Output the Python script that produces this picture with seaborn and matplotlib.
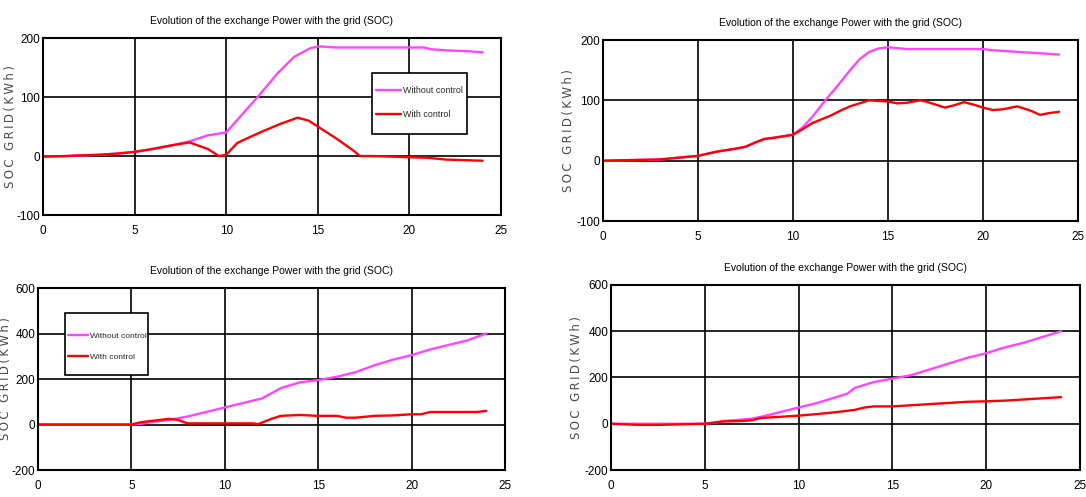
import numpy as np
import pandas as pd
import matplotlib
matplotlib.use("Agg")
import matplotlib.pyplot as plt
from matplotlib.patches import Rectangle
import seaborn as sns

# ---------------- data ----------------
title = "Evolution of the exchange Power with the grid (SOC)"
ylabel = "SOC GRID(KWh)"
series_names = ["Without control", "With control"]

# Panel 1 (top-left)
p1_x_wo = [0, 1.3, 2, 3, 4, 5, 6, 7, 8, 8.5, 9, 10, 11, 11.8, 12.8, 13.7, 14.6, 15.1, 16, 20.8, 21.2, 22.1, 23, 24]
p1_y_wo = [-1, 0, 1, 2, 4, 7, 12, 18, 25, 30, 35, 40, 75, 103, 140, 168, 183, 186, 184, 184, 181, 179, 178, 176]
p1_x_w = [0, 1.3, 2, 3, 4, 5, 6, 7, 8, 9, 9.6, 10, 10.6, 11, 12, 13, 13.9, 14.5, 15, 16, 17, 17.3, 18, 20, 21, 22, 24]
p1_y_w = [-1, 0, 1, 2, 4, 7, 12, 18, 23, 12, 0, 2, 22, 28, 42, 55, 65, 60, 50, 30, 8, 0, 0, -2, -3, -6, -8]

# Panel 2 (top-right)
p2_x_wo = [0, 3, 4, 5, 6, 7, 7.5, 8, 8.5, 9, 10, 10.5, 11, 11.7, 12.5, 13, 13.5, 14, 14.5, 15, 16, 20, 20.5, 22, 23, 24]
p2_y_wo = [0, 2, 5, 8, 15, 20, 23, 30, 36, 38, 43, 55, 72, 100, 130, 150, 168, 180, 186, 188, 185, 185, 183, 180, 178, 176]
p2_x_w = [0, 3, 4, 5, 6, 7, 7.5, 8, 8.5, 9, 10, 10.5, 11, 12, 12.5, 13, 13.5, 14, 14.5, 15, 15.5, 16, 16.7, 17, 17.5,
          18, 18.5, 19, 19.5, 20, 20.5, 21, 21.8, 22.5, 23, 23.5, 24]
p2_y_w = [0, 2, 5, 8, 15, 20, 23, 30, 36, 38, 43, 52, 62, 75, 83, 90, 95, 100, 99, 98, 95, 96, 100, 98, 93,
          88, 92, 97, 93, 88, 84, 85, 90, 83, 76, 79, 81]

# Panel 3 (bottom-left)
p3_x_wo = [0, 4.9, 5.5, 6, 7, 8, 9, 10, 11, 12, 13, 14, 15, 16, 17, 18, 19, 20, 21, 22, 23, 24]
p3_y_wo = [0, 0, 3, 10, 20, 35, 55, 75, 95, 115, 160, 185, 195, 210, 230, 260, 285, 305, 330, 350, 370, 400]
p3_x_w = [0, 5, 5.5, 6, 7, 7.5, 8, 9, 11.5, 11.8, 12.5, 13, 14, 15, 16, 16.5, 17, 18, 19, 20, 20.5, 21, 22, 23, 23.5, 24]
p3_y_w = [0, 0, 10, 15, 25, 20, 5, 5, 5, 2, 25, 38, 42, 38, 38, 30, 30, 38, 40, 45, 45, 55, 55, 55, 55, 60]

# Panel 4 (bottom-right)
p4_x_wo = [0, 5, 5.5, 6, 7, 7.5, 8, 9, 10, 11, 12, 12.6, 13, 14, 15, 16, 17, 18, 19, 20, 21, 22, 23, 24]
p4_y_wo = [0, 0, 5, 12, 18, 22, 30, 50, 70, 90, 115, 130, 155, 180, 195, 210, 235, 260, 285, 305, 330, 350, 375, 400]
p4_x_w = [0, 1.5, 2.5, 5, 5.5, 6, 7, 7.5, 8, 9, 10, 11, 12, 13, 13.5, 14, 15, 16, 17, 18, 19, 20, 21, 22, 23, 24]
p4_y_w = [0, -5, -5, 0, 5, 10, 12, 15, 25, 30, 35, 42, 50, 60, 70, 75, 75, 80, 85, 90, 95, 97, 100, 105, 110, 115]

xticks = [0, 5, 10, 15, 20, 25]
yticks_top = [-100, 0, 100, 200]
yticks_bot = [-200, 0, 200, 400, 600]

# ---------------- style ----------------
sns.set_theme(style="white")
narrow = ['Liberation Sans Narrow', 'Liberation Sans', 'DejaVu Sans']
plt.rcParams['font.family'] = narrow
plt.rcParams['axes.unicode_minus'] = False

c_wo = "#ff44ff"
c_w = "#ff0000"

# letter-spaced y label (thin spaces between characters)
ylabel_spaced = "\u2009".join(ylabel)

fig = plt.figure(figsize=(10.86, 4.97), dpi=100)
axes_pos = [
    [0.0396, 0.5674, 0.4217, 0.3560],
    [0.5552, 0.5553, 0.4375, 0.3642],
    [0.0350, 0.0543, 0.4300, 0.3662],
    [0.5626, 0.0543, 0.4318, 0.3723],
]
ylab_x = [-0.057, -0.059, -0.056, -0.059]
# legend layout: (frame x0, y0, x1, y1, entries anchor x, anchor y, labelspacing, fontsize, handlelength)
legends = [
    (0.718, 0.46, 0.926, 0.80, 0.727, 0.636, 1.75, 6.4, 2.8),
    None,
    (0.058, 0.522, 0.236, 0.863, 0.064, 0.679, 1.65, 6.0, 2.4),
    None,
]
panels = [
    (p1_x_wo, p1_y_wo, p1_x_w, p1_y_w, yticks_top),
    (p2_x_wo, p2_y_wo, p2_x_w, p2_y_w, yticks_top),
    (p3_x_wo, p3_y_wo, p3_x_w, p3_y_w, yticks_bot),
    (p4_x_wo, p4_y_wo, p4_x_w, p4_y_w, yticks_bot),
]

for pos, lx, leg, (xwo, ywo, xw, yw, yt) in zip(axes_pos, ylab_x, legends, panels):
    ax = fig.add_axes(pos)
    df_wo = pd.DataFrame({"t": xwo, "v": ywo})
    df_w = pd.DataFrame({"t": xw, "v": yw})
    sns.lineplot(data=df_wo, x="t", y="v", color=c_wo, lw=1.7, ax=ax, label=series_names[0], legend=False)
    sns.lineplot(data=df_w, x="t", y="v", color=c_w, lw=1.7, ax=ax, label=series_names[1], legend=False)
    ax.set_xlim(0, 25)
    ax.set_ylim(yt[0], yt[-1])
    ax.set_xticks(xticks)
    ax.set_yticks(yt)
    ax.grid(True, color="black", lw=1.2)
    ax.set_axisbelow(True)
    for s in ax.spines.values():
        s.set_color("black")
        s.set_linewidth(1.5)
    ax.tick_params(axis="both", labelsize=8.5, length=0, colors="black")
    ax.tick_params(axis="x", pad=7)
    ax.tick_params(axis="y", pad=2)
    ax.set_xlabel("")
    ax.set_ylabel(ylabel_spaced, fontsize=8.5, color="#4a4a4a", family=['DejaVu Sans'])
    ax.yaxis.set_label_coords(lx, 0.5)
    ax.set_title(title, fontsize=7.5, pad=10, color="black")
    if leg is not None:
        fx0, fy0, fx1, fy1, ax_, ay_, ls, fs, hl = leg
        ax.add_patch(Rectangle((fx0, fy0), fx1 - fx0, fy1 - fy0, transform=ax.transAxes,
                               facecolor="white", edgecolor="black", lw=1.2, zorder=4))
        lg = ax.legend(loc="center left", bbox_to_anchor=(ax_, ay_), fontsize=fs,
                       frameon=False, handlelength=hl, handletextpad=0.2,
                       borderaxespad=0, borderpad=0, labelspacing=ls)
        lg.set_zorder(5)

fig.savefig("out.png", dpi=100)
